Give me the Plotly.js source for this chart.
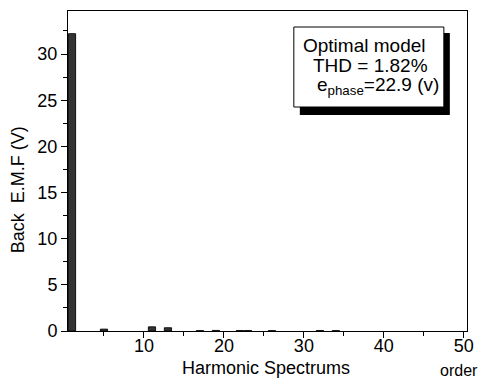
<!DOCTYPE html>
<html>
<head>
<meta charset="utf-8">
<script src="https://cdn.plot.ly/plotly-3.0.1.min.js"></script>
<style>html,body{margin:0;padding:0;background:#fff;}#chart{width:481px;height:378px;}</style>
</head>
<body>
<div id="chart"></div>
<script>
// Harmonic orders and Back EMF amplitudes (V)
const harmonicOrders = [1, 5, 11, 13, 17, 19, 22, 23, 26, 32, 34];
const emfValues      = [32.2, 0.2, 0.45, 0.35, 0.04, 0.06, 0.05, 0.05, 0.04, 0.05, 0.04];
const yTickVals = [0, 5, 10, 15, 20, 25, 30];
const xTickVals = [10, 20, 30, 40, 50];

const FONT = "Liberation Sans, Arial, sans-serif";

const trace = {
  type: 'bar',
  x: harmonicOrders,
  y: emfValues,
  width: 0.9,
  marker: {color: '#333333', line: {color: '#111111', width: 1}},
  hoverinfo: 'skip'
};

const layout = {
  width: 481, height: 378,
  margin: {l: 68, r: 14, t: 11, b: 47, pad: 0},
  paper_bgcolor: '#ffffff', plot_bgcolor: '#ffffff',
  showlegend: false,
  font: {family: FONT, size: 18, color: '#000'},
  bargap: 0,
  xaxis: {
    range: [0.5, 50.4],
    tickvals: xTickVals,
    ticks: 'outside', ticklen: 6, tickwidth: 1, tickcolor: '#000',
    minor: {ticks: 'outside', dtick: 5, tick0: 0, ticklen: 4, tickcolor: '#000'},
    showline: true, linecolor: '#000', linewidth: 1, mirror: true,
    showgrid: false, zeroline: false,
    ticklabelstandoff: -8,
    tickfont: {family: FONT, size: 18}
  },
  yaxis: {
    range: [0, 34.66],
    tickvals: yTickVals,
    ticks: 'outside', ticklen: 6, tickwidth: 1, tickcolor: '#000',
    minor: {ticks: 'outside', dtick: 2.5, tick0: 0, ticklen: 4, tickcolor: '#000'},
    showline: true, linecolor: '#000', linewidth: 1, mirror: true,
    showgrid: false, zeroline: false,
    tickfont: {family: FONT, size: 18}
  },
  shapes: [
    {type: 'rect', xref: 'paper', yref: 'paper', x0: 0.581, x1: 0.957, y0: 0.675, y1: 0.931,
     fillcolor: '#000', line: {width: 0}},
    {type: 'rect', xref: 'paper', yref: 'paper', x0: 0.566, x1: 0.942, y0: 0.70, y1: 0.95,
     fillcolor: '#fff', line: {color: '#000', width: 1}}
  ],
  annotations: [
    {text: 'Optimal model', xref: 'paper', yref: 'paper', x: 0.584, y: 0.893,
     xanchor: 'left', yanchor: 'middle', showarrow: false, font: {family: FONT, size: 19}},
    {text: 'THD = 1.82%', xref: 'paper', yref: 'paper', x: 0.609, y: 0.83,
     xanchor: 'left', yanchor: 'middle', showarrow: false, font: {family: FONT, size: 19}},
    {text: 'e<sub>phase</sub>=22.9 (v)', xref: 'paper', yref: 'paper', x: 0.619, y: 0.765,
     xanchor: 'left', yanchor: 'middle', showarrow: false, font: {family: FONT, size: 19}},
    {text: 'Back  E.M.F (V)', xref: 'paper', yref: 'paper', x: -0.125, y: 0.44,
     xanchor: 'center', yanchor: 'middle', textangle: -90, showarrow: false,
     font: {family: FONT, size: 18}},
    {text: 'Harmonic Spectrums', xref: 'paper', yref: 'paper', x: 0.497, y: -0.116,
     xanchor: 'center', yanchor: 'middle', showarrow: false, font: {family: FONT, size: 18}},
    {text: 'order', xref: 'paper', yref: 'paper', x: 0.98, y: -0.122,
     xanchor: 'center', yanchor: 'middle', showarrow: false, font: {family: FONT, size: 16}}
  ]
};

Plotly.newPlot('chart', [trace], layout, {staticPlot: true, displayModeBar: false});
</script>
</body>
</html>
